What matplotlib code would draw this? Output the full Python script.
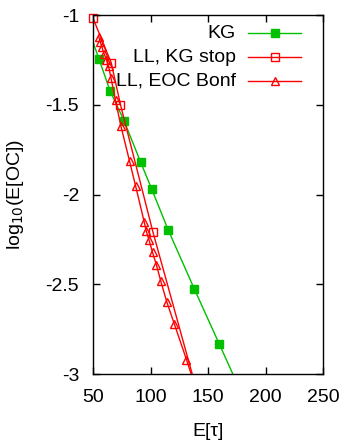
import matplotlib
matplotlib.use("Agg")
import matplotlib.pyplot as plt
from matplotlib.lines import Line2D

plt.rcParams['font.family'] = ['Liberation Sans', 'DejaVu Sans']

# KG
kg_x = [45.0, 55.2, 64.8, 77.0, 91.5, 101.0, 115.5, 138.1, 159.8, 185.0]
kg_y = [-1.06, -1.245, -1.422, -1.589, -1.821, -1.969, -2.199, -2.526, -2.833, -3.19]

# LL, KG stop
kgs_x = [50.0, 65.9, 73.9, 102.2, 143.0]
kgs_y = [-1.018, -1.267, -1.500, -2.211, -3.156]

# LL, EOC Bonf
eoc_x = [54.96, 56.35, 57.83, 59.57, 61.57, 63.48, 65.65, 69.57, 74.35, 81.74,
         86.96, 94.61, 96.26, 98.70, 101.74, 105.04, 108.87, 114.09, 120.70, 131.30, 139.6]
eoc_y = [-1.120, -1.150, -1.181, -1.215, -1.248, -1.284, -1.351, -1.476, -1.621, -1.813,
         -1.950, -2.155, -2.203, -2.253, -2.322, -2.390, -2.481, -2.597, -2.721, -2.920, -3.084]

labels = ['KG', 'LL, KG stop', 'LL, EOC Bonf']
xticks = [50, 100, 150, 200, 250]
yticks = [-1, -1.5, -2, -2.5, -3]
ytick_labels = ["-1", "-1.5", "-2", "-2.5", "-3"]
XMIN, XMAX, YMIN, YMAX = 50, 250, -3, -1

W, H = 345, 444
L, R, T, B = 93, 323, 15, 374
fig = plt.figure(figsize=(W/100, H/100), dpi=100)
ax = fig.add_axes([L/W, 1-B/H, (R-L)/W, (B-T)/H])

green = '#00c000'
red = '#ff0000'
FS = 14

def inrange(xs, ys):
    pts = [(a, b) for a, b in zip(xs, ys) if XMIN <= a <= XMAX and YMIN <= b <= YMAX]
    return [p[0] for p in pts], [p[1] for p in pts]

styles = [(kg_x, kg_y, green, 's', green),
          (kgs_x, kgs_y, red, 's', 'none'),
          (eoc_x, eoc_y, red, '^', 'none')]
for xs, ys, col, mk, mfc in styles:
    ax.plot(xs, ys, color=col, lw=1)
    xi, yi = inrange(xs, ys)
    ax.plot(xi, yi, ls='none', marker=mk, ms=6, mfc=mfc, mec=col, mew=1, clip_on=False)

ax.set_xlim(XMIN, XMAX)
ax.set_ylim(YMIN, YMAX)
ax.set_xticks(xticks)
ax.set_yticks(yticks)
ax.set_yticklabels(ytick_labels)
ax.tick_params(direction='in', length=5, width=1, top=True, right=True, labelsize=FS)
ax.tick_params(axis='x', pad=11)
ax.tick_params(axis='y', pad=10)
for s in ax.spines.values():
    s.set_linewidth(1)

ax.set_xlabel('E[τ]', fontsize=FS, labelpad=12)
ax.set_ylabel(r'log$_{10}$(E[OC])', fontsize=FS, labelpad=14)

# manual gnuplot-style key
def ax_x(px):
    return (px - L) / (R - L)

def ax_y(py):
    return (B - py) / (B - T)

for i, ((xs, ys, col, mk, mfc), lab) in enumerate(zip(styles, labels)):
    yy = ax_y(33 + 24 * i)
    ax.text(ax_x(236), yy, lab, ha='right', va='center', fontsize=FS, transform=ax.transAxes)
    ax.add_line(Line2D([ax_x(248), ax_x(301)], [yy, yy], color=col, lw=1,
                       transform=ax.transAxes, clip_on=False))
    ax.add_line(Line2D([ax_x(274.5)], [yy], ls='none', marker=mk, ms=6, mfc=mfc, mec=col, mew=1,
                       transform=ax.transAxes, clip_on=False))

fig.savefig('out.png', dpi=100)
